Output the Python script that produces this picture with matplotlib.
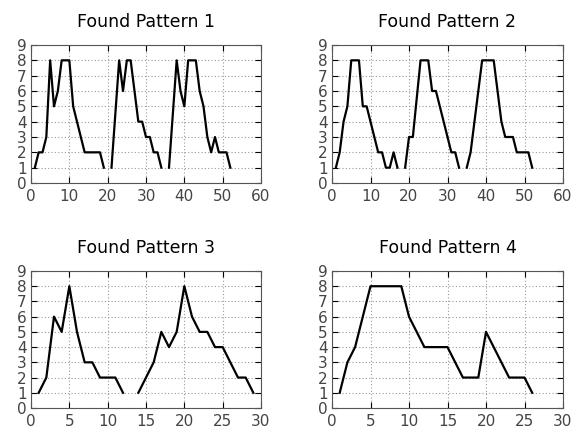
import numpy as np
import matplotlib.pyplot as plt

nan = np.nan

# pattern values, index = x position (starting at 1), nan = gap
p1 = [1, 2, 2, 3, 8, 5, 6, 8, 8, 8, 5, 4, 3, 2, 2, 2, 2, 2, 1, nan,
      1, 4.5, 8, 6, 8, 8, 6, 4, 4, 3, 3, 2, 2, 1, nan,
      1, 4.5, 8, 6, 5, 8, 8, 8, 6, 5, 3, 2, 3, 2, 2, 2, 1]
p2 = [1, 2, 4, 5, 8, 8, 8, 5, 5, 4, 3, 2, 2, 1, 1, 2, 1, nan,
      1, 3, 3, 5.5, 8, 8, 8, 6, 6, 5, 4, 3, 2, 2, 1, nan,
      1, 2, 4, 6, 8, 8, 8, 8, 6, 4, 3, 3, 3, 2, 2, 2, 2, 1]
p3 = [1, 2, 6, 5, 8, 5, 3, 3, 2, 2, 2, 1, nan,
      1, 2, 3, 5, 4, 5, 8, 6, 5, 5, 4, 4, 3, 2, 2, 1]
p4 = [1, 3, 4, 6, 8, 8, 8, 8, 8, 6, 5, 4, 4, 4, 4, 3, 2, 2, 2, 5, 4, 3, 2, 2, 2, 1]

patterns = [p1, p2, p3, p4]
titles = ['Found Pattern 1', 'Found Pattern 2', 'Found Pattern 3', 'Found Pattern 4']
xmax = [60, 60, 30, 30]
xstep = [10, 10, 5, 5]

fig = plt.figure(figsize=(5.76, 4.34), dpi=100)
# axes boxes in pixels: left, top, right, bottom
boxes = [(31, 45, 261, 183), (332, 45, 563, 183),
         (31, 271, 261, 408), (332, 271, 563, 408)]

for i in range(4):
    l, t, r, b = boxes[i]
    ax = fig.add_axes([l / 576, 1 - b / 434, (r - l) / 576, (b - t) / 434])
    y = np.array(patterns[i], dtype=float)
    x = np.arange(1, len(y) + 1)
    ax.plot(x, y, color='black', lw=1.6)
    ax.set_xlim(0, xmax[i])
    ax.set_ylim(0, 9)
    ax.set_xticks(np.arange(0, xmax[i] + 1, xstep[i]))
    ax.set_yticks(range(10))
    ax.grid(True, color='#999999', ls=(0, (1, 2)), lw=0.8)
    ax.tick_params(direction='in', top=True, right=True, length=4,
                   labelsize=11, labelcolor='#444444', color='black', pad=4)
    ax.tick_params(axis='y', pad=3)
    for s in ax.spines.values():
        s.set_color('#555555')
    ax.set_title(titles[i], fontsize=12.5, pad=13)

plt.savefig('out.png', dpi=100)
